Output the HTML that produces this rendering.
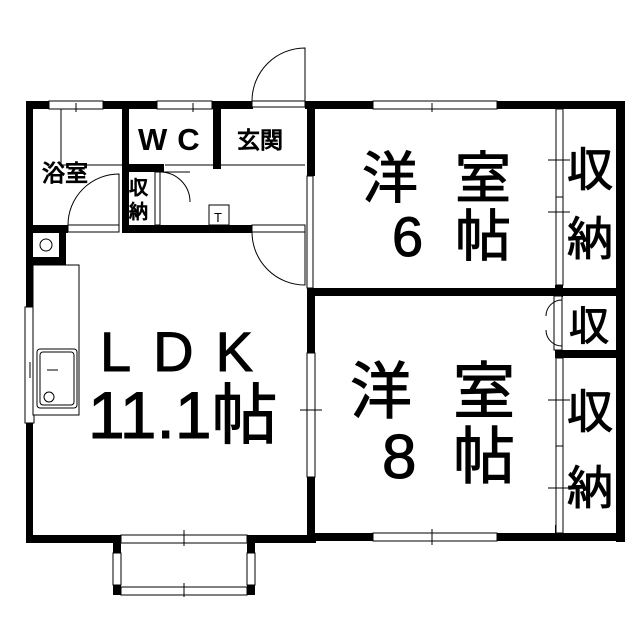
<!DOCTYPE html>
<html><head><meta charset="utf-8"><style>
html,body{margin:0;padding:0;background:#fff;}
svg{display:block}
text{font-family:"Liberation Sans","Noto Sans CJK JP",sans-serif;fill:#000}
.b{stroke:#000;stroke-width:1}
</style></head><body>
<svg width="639" height="640" viewBox="0 0 639 640" xmlns="http://www.w3.org/2000/svg">
<g fill="#000">
<rect x="26" y="101" width="227" height="8"/>
<rect x="305" y="101" width="320" height="8"/>
<rect x="26" y="101" width="7" height="442"/>
<rect x="616" y="101" width="9" height="441"/>
<rect x="26" y="535" width="290" height="8"/>
<rect x="307" y="533" width="318" height="8"/>
<rect x="122" y="101" width="7" height="132"/>
<rect x="213" y="101" width="8" height="68"/>
<rect x="129" y="164" width="35" height="8"/>
<rect x="122" y="225" width="130" height="8"/>
<rect x="26" y="225" width="42" height="8"/>
<rect x="26" y="233" width="6" height="30"/>
<rect x="59" y="225" width="7" height="38"/>
<rect x="26" y="257" width="40" height="8"/>
<rect x="307" y="101" width="8" height="75"/>
<rect x="307" y="288" width="318" height="8"/>
<rect x="307" y="288" width="8" height="65"/>
<rect x="307" y="477" width="8" height="66"/>
<rect x="555" y="285" width="8" height="12"/>
<rect x="555" y="350" width="70" height="8"/>
<rect x="555" y="525" width="8" height="10"/>
<rect x="113" y="543" width="8" height="10"/>
<rect x="247" y="543" width="8" height="10"/>
<rect x="113" y="585" width="8" height="10"/>
<rect x="247" y="585" width="8" height="10"/>
</g>
<g fill="#fff" stroke="#000" stroke-width="1">
<rect x="49" y="101" width="54" height="8"/>
<rect x="157" y="101" width="55" height="8"/>
<rect x="373" y="101" width="124" height="8"/>
<rect x="373" y="533" width="124" height="8"/>
<rect x="25" y="307" width="9" height="116"/>
<rect x="307" y="353" width="8" height="124"/>
<rect x="121" y="535" width="126" height="8"/>
<rect x="121" y="587" width="126" height="8"/>
<rect x="113" y="553" width="8" height="32"/>
<rect x="247" y="553" width="8" height="32"/>
<rect x="307" y="176" width="6" height="112"/>
<rect x="556" y="109" width="7" height="88"/>
<rect x="556" y="197" width="7" height="88"/>
<rect x="556" y="358" width="7" height="88"/>
<rect x="556" y="446" width="7" height="87"/>
<rect x="554" y="296" width="8" height="54"/>
<rect x="252" y="101" width="53" height="6"/>
<rect x="252" y="225" width="53" height="7"/>
<rect x="68" y="225" width="51" height="7"/>
<rect x="155" y="172" width="5" height="53"/>
<rect x="33" y="265" width="46" height="150"/>
<rect x="37" y="349" width="40" height="59" rx="3"/>
<rect x="40" y="352" width="34" height="53" rx="3"/>
<circle cx="46" cy="245" r="6"/>
<circle cx="49" cy="397" r="5"/>
<rect x="209" y="205" width="20" height="20"/>
</g>
<g fill="none" stroke="#000" stroke-width="1">
<path d="M252 101 A53 53 0 0 1 305 48 L305 101"/>
<path d="M252 232 A53 53 0 0 0 305 285 L305 232"/>
<path d="M68 225 A51 51 0 0 1 119 174 L119 225"/>
<path d="M165 165 L213 165 M160 172 A30 30 0 0 1 190 202 M160 172 L190 172"/>
<path d="M221 165 L305 165"/>
<path d="M61 109 L61 165 L122 165"/>
<path d="M562 300 A16 16 0 0 0 546 316 M562 346 A16 16 0 0 1 546 330"/>
<path d="M47 370 L58 370 M30 362 L30 378 M40 366 L40 376"/>
<path d="M76 103 L76 112 M193 103 L193 112 M432 103 L432 112 M432 529 L432 545 M184 530 L184 546 M184 583 L184 597 M548 160 L570 160 M548 212 L570 212 M548 400 L570 400 M548 488 L570 488 M300 410 L322 410"/>
</g>
<text x="42" y="181" font-size="23" class="b" stroke-width="0.4">浴室</text>
<text x="138" y="150" font-size="31" font-weight="bold" letter-spacing="10">WC</text>
<text x="237" y="148" font-size="23" class="b" stroke-width="0.4">玄関</text>
<text x="214" y="222" font-size="13">T</text>
<text x="129" y="194" font-size="19" class="b" stroke-width="0.3">収</text>
<text x="129" y="218" font-size="19" class="b" stroke-width="0.3">納</text>
<g class="b" stroke-width="1.2">
<text x="362" y="198" font-size="56">洋</text>
<text x="455" y="198" font-size="56">室</text>
<text x="392" y="256" font-size="56">6</text>
<text x="455" y="256" font-size="56">帖</text>
<text x="567" y="186" font-size="46">収</text>
<text x="567" y="255" font-size="46">納</text>
<text x="569" y="340" font-size="40">収</text>
<text x="350" y="413" font-size="62">洋</text>
<text x="453" y="413" font-size="62">室</text>
<text x="382" y="478" font-size="62">8</text>
<text x="453" y="478" font-size="62">帖</text>
<text x="567" y="428" font-size="46">収</text>
<text x="567" y="504" font-size="46">納</text>
<text x="100" y="371" font-size="56" letter-spacing="22">LDK</text>
<text x="88" y="438" font-size="66">11.1帖</text>
</g>
</svg>
</body></html>
